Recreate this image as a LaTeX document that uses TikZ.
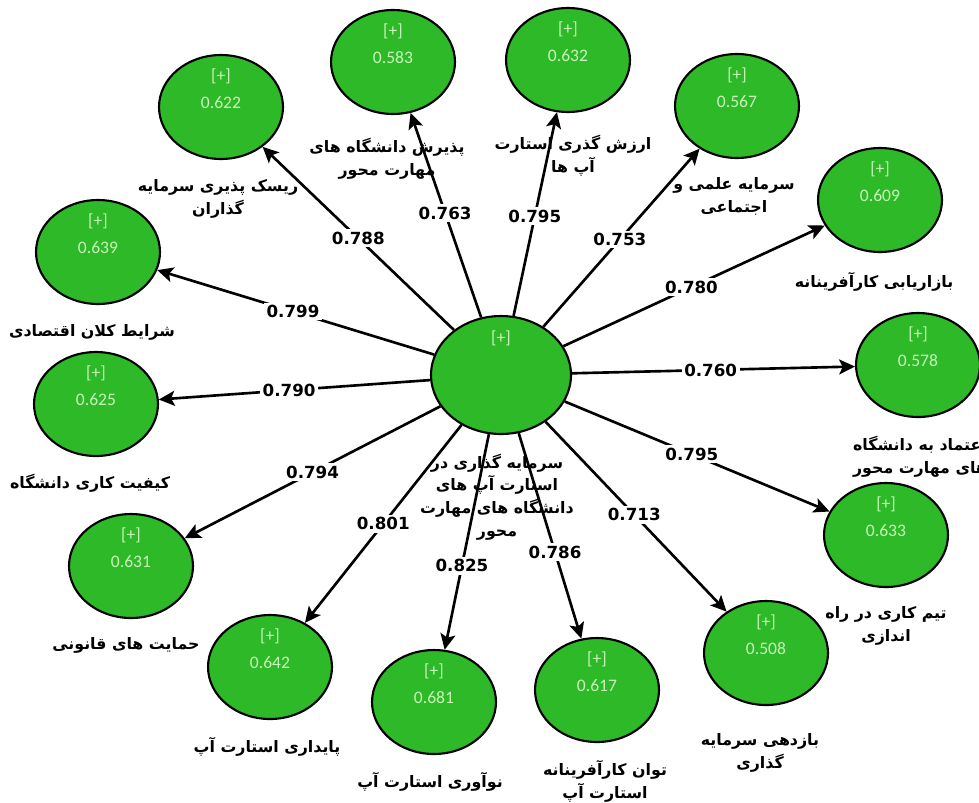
\documentclass[tikz,border=0pt]{standalone}
\usepackage{fontspec}
\usepackage{tikz}
\usetikzlibrary{arrows.meta,shapes.geometric}
\TeXXeTstate=1
\newfontfamily\fafont[Script=Arabic]{DejaVu Sans}
\newfontfamily\numfont{DejaVu Sans}
\newfontfamily\valfont{Carlito}
\definecolor{latentgreen}{RGB}{45,185,40}
\definecolor{valgreen}{RGB}{200,245,185}
\newcommand{\fatxt}[1]{\beginR #1\endR}

\begin{document}
\begin{tikzpicture}[x=0.02cm,y=-0.02cm,>={Stealth[length=9pt,width=8.5pt,inset=2pt]},
		latent/.style={ellipse,draw,line width=1.2pt,fill=latentgreen,minimum width=2.48cm,minimum height=2.08cm,inner sep=0pt},
		hub/.style={latent,minimum width=2.8cm,minimum height=2.36cm},
		val/.style={text=valgreen,font=\valfont\fontsize{10}{15.4}\selectfont,align=center,yshift=0.37cm},
		ttl/.style={font=\fafont\bfseries\fontsize{9}{13}\selectfont,align=center},
		load/.style={fill=white,font=\numfont\bfseries\fontsize{9.5}{11}\selectfont,inner sep=1.5pt},
		link/.style={->,line width=1.5pt}]
		\useasboundingbox (0,0) rectangle (979,802);

		% captions (under the arrows)
		\node[ttl] (c-t) at (497,497) {\fatxt{سرمایه گذاری در}\\\fatxt{استارت آپ های}\\\fatxt{دانشگاه های مهارت}\\\fatxt{محور}};
		\node[ttl] (risk-t) at (218,199) {\fatxt{ریسک پذیری سرمایه}\\\fatxt{گذاران}};
		\node[ttl] (pazir-t) at (387,159) {\fatxt{پذیرش دانشگاه های}\\\fatxt{مهارت محور}};
		\node[ttl] (arzesh-t) at (573,156) {\fatxt{ارزش گذری استارت}\\\fatxt{آپ ها}};
		\node[ttl] (elmi-t) at (734,196) {\fatxt{سرمایه علمی و}\\\fatxt{اجتماعی}};
		\node[ttl] (bazar-t) at (874,282) {\fatxt{بازاریابی کارآفرینانه}};
		\node[ttl] (etemad-t) at (920,457) {\fatxt{اعتماد به دانشگاه}\\\fatxt{های مهارت محور}};
		\node[ttl] (team-t) at (886,626) {\fatxt{تیم کاری در راه}\\\fatxt{اندازی}};
		\node[ttl] (bazdehi-t) at (760,753) {\fatxt{بازدهی سرمایه}\\\fatxt{گذاری}};
		\node[ttl] (tavan-t) at (605,781) {\fatxt{توان کارآفرینانه}\\\fatxt{استارت آپ}};
		\node[ttl] (noavari-t) at (430,782) {\fatxt{نوآوری استارت آپ}};
		\node[ttl] (paydari-t) at (267,747) {\fatxt{پایداری استارت آپ}};
		\node[ttl] (hemayat-t) at (126,645) {\fatxt{حمایت های قانونی}};
		\node[ttl] (keyfiat-t) at (90,483) {\fatxt{کیفیت کاری دانشگاه}};
		\node[ttl] (sharayet-t) at (92,332) {\fatxt{شرایط کلان اقتصادی}};

		% constructs
		\node[hub] (c) at (501,375) {};
		\node[val,yshift=0.37cm] (c-v) at (c) {[+]};
		\node[latent] (risk) at (221,107) {};
		\node[val] (risk-v) at (risk) {[+]\\0.622};
		\node[latent] (pazir) at (393,62) {};
		\node[val] (pazir-v) at (pazir) {[+]\\0.583};
		\node[latent] (arzesh) at (568,60) {};
		\node[val] (arzesh-v) at (arzesh) {[+]\\0.632};
		\node[latent] (elmi) at (737,106) {};
		\node[val] (elmi-v) at (elmi) {[+]\\0.567};
		\node[latent] (bazar) at (880,200) {};
		\node[val] (bazar-v) at (bazar) {[+]\\0.609};
		\node[latent] (etemad) at (918,365) {};
		\node[val] (etemad-v) at (etemad) {[+]\\0.578};
		\node[latent] (team) at (886,535) {};
		\node[val] (team-v) at (team) {[+]\\0.633};
		\node[latent] (bazdehi) at (766,653) {};
		\node[val] (bazdehi-v) at (bazdehi) {[+]\\0.508};
		\node[latent] (tavan) at (597,690) {};
		\node[val] (tavan-v) at (tavan) {[+]\\0.617};
		\node[latent] (noavari) at (434,702) {};
		\node[val] (noavari-v) at (noavari) {[+]\\0.681};
		\node[latent] (paydari) at (270,667) {};
		\node[val] (paydari-v) at (paydari) {[+]\\0.642};
		\node[latent] (hemayat) at (131,566) {};
		\node[val] (hemayat-v) at (hemayat) {[+]\\0.631};
		\node[latent] (keyfiat) at (96,404) {};
		\node[val] (keyfiat-v) at (keyfiat) {[+]\\0.625};
		\node[latent] (sharayet) at (98,252) {};
		\node[val] (sharayet-v) at (sharayet) {[+]\\0.639};

		% loadings
		\path[link] (c) edge node[load,pos=.50] {0.788} (risk)
		edge node[load,pos=.51] {0.763} (pazir)
		edge node[load,pos=.49] {0.795} (arzesh)
		edge node[load,pos=.49] {0.753} (elmi)
		edge node[load,pos=.49] {0.780} (bazar)
		edge node[load,pos=.49] {0.760} (etemad)
		edge node[load,pos=.48] {0.795} (team)
		edge node[load,pos=.49] {0.713} (bazdehi)
		edge node[load,pos=.58] {0.786} (tavan)
		edge node[load,pos=.61] {0.825} (noavari)
		edge node[load,pos=.50] {0.801} (paydari)
		edge node[load,pos=.50] {0.794} (hemayat)
		edge node[load,pos=.52] {0.790} (keyfiat)
		edge node[load,pos=.51] {0.799} (sharayet);
	\end{tikzpicture}
\end{document}
